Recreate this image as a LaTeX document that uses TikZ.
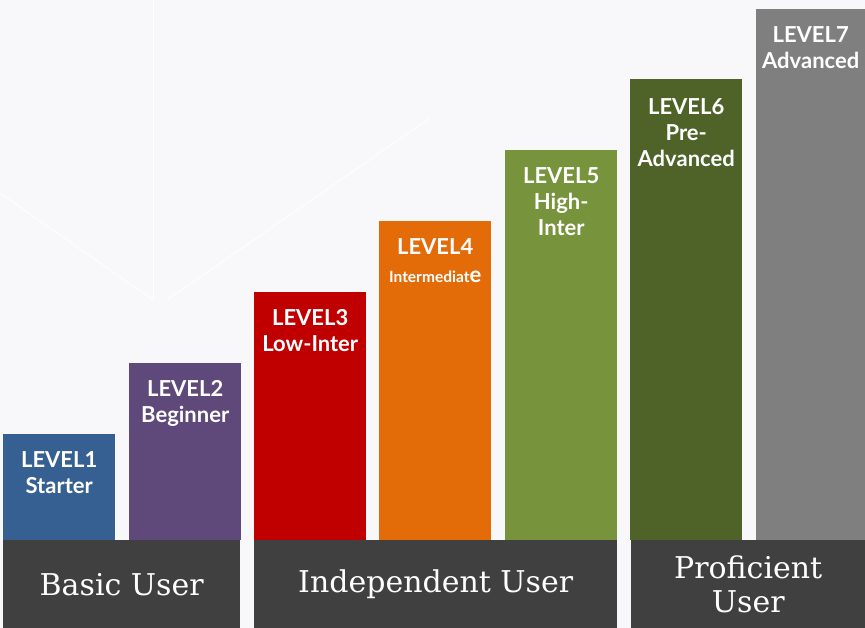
\documentclass[tikz,border=0pt]{standalone}
\usepackage{fontspec}
\newfontfamily\barfont{Lato}
\newfontfamily\bandfont{DejaVu Serif}
\usetikzlibrary{positioning}
\definecolor{paper}{RGB}{248, 248, 250}
\definecolor{steelblue}{RGB}{54, 96, 146}
\definecolor{plum}{RGB}{95, 73, 122}
\definecolor{crimson}{RGB}{192, 0, 0}
\definecolor{pumpkin}{RGB}{227, 108, 9}
\definecolor{olive}{RGB}{119, 147, 60}
\definecolor{darkolive}{RGB}{79, 98, 40}
\definecolor{midgray}{RGB}{127, 127, 127}
\definecolor{charcoal}{RGB}{64, 64, 64}

\begin{document}
\begin{tikzpicture}[
        x=1pt, y=-1pt,
        bar/.style={
            rectangle,
            inner sep=0pt,
            anchor=south west,
            minimum width=112pt
        },
        levtext/.style={
            text=white,
            align=center,
            inner sep=0pt,
            font=\barfont\bfseries\fontsize{22}{26}\selectfont
        },
        band/.style={
            rectangle,
            fill=charcoal,
            text=white,
            anchor=north west,
            inner sep=0pt,
            minimum height=88pt,
            align=center,
            font=\bandfont\fontsize{30}{34}\selectfont
        }
    ]

    % background
    \useasboundingbox (0,0) rectangle (865,628);
    \fill[paper] (0,0) rectangle (865,628);
    \draw[white, line width=0.8pt] (153,0) -- (153,300);
    \draw[white, line width=0.8pt] (0,193) -- (153,300);
    \draw[white, line width=0.8pt] (167,300) -- (430,118);

    % bars
    \node[bar, fill=steelblue, minimum height=106pt] (lvl1) at (3,540) {};
    \node[bar, fill=plum, minimum height=177pt] (lvl2) at (129,540) {};
    \node[bar, fill=crimson, minimum height=248pt] (lvl3) at (254,540) {};
    \node[bar, fill=pumpkin, minimum height=319pt] (lvl4) at (379,540) {};
    \node[bar, fill=olive, minimum height=390pt] (lvl5) at (505,540) {};
    \node[bar, fill=darkolive, minimum height=461pt] (lvl6) at (630,540) {};
    \node[bar, fill=midgray, minimum height=531pt, minimum width=109pt] (lvl7) at (756,540) {};

    % bar labels
    \node[levtext, below=18pt of lvl1.north] (lvl1-t) {LEVEL1\\Starter};
    \node[levtext, below=18pt of lvl2.north] (lvl2-t) {LEVEL2\\Beginner};
    \node[levtext, below=18pt of lvl3.north] (lvl3-t) {LEVEL3\\Low-Inter};
    \node[levtext, below=18pt of lvl4.north] (lvl4-t) {LEVEL4\\[2pt]{\fontsize{15.5}{15}\selectfont Intermediat}e};
    \node[levtext, below=18pt of lvl5.north] (lvl5-t) {LEVEL5\\High-\\Inter};
    \node[levtext, below=20pt of lvl6.north] (lvl6-t) {LEVEL6\\Pre-\\Advanced};
    \node[levtext, below=18pt of lvl7.north] (lvl7-t) {LEVEL7\\Advanced};

    % user bands
    \node[band, minimum width=237pt] (basic) at (3,540) {Basic User};
    \node[band, minimum width=363pt] (indep) at (254,540) {Independent User};
    \node[band, minimum width=234pt] (prof) at (631,540) {Proficient\\User};
\end{tikzpicture}
\end{document}
